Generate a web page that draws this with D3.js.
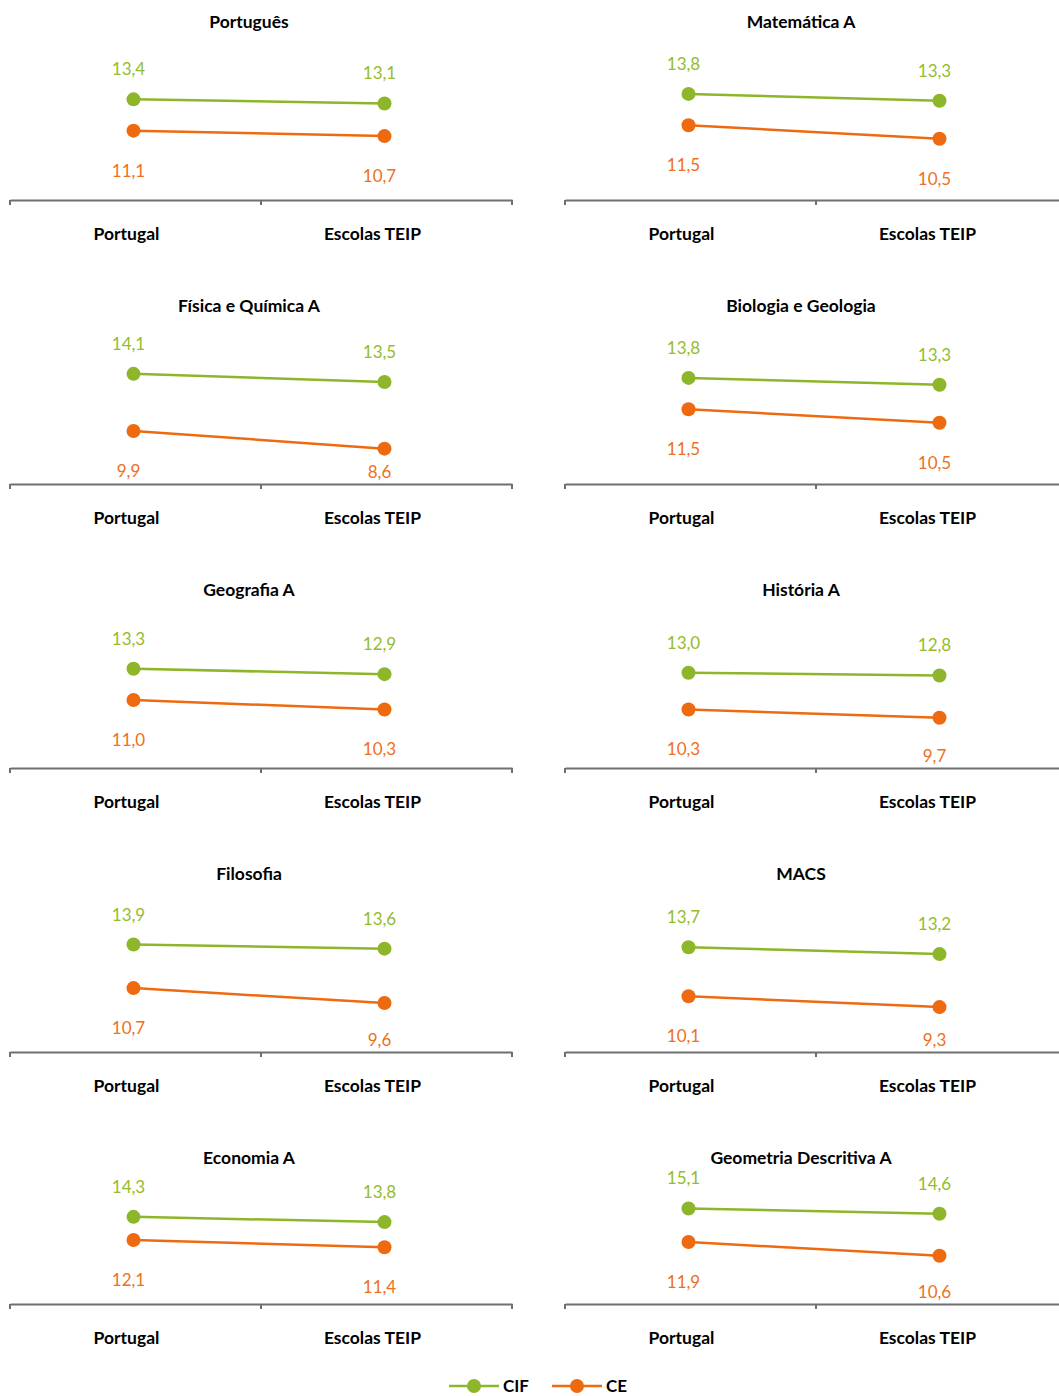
<!DOCTYPE html>
<html><head><meta charset="utf-8">
<script src="https://cdn.jsdelivr.net/npm/d3@7"></script>
<style>body{margin:0;background:#fff}svg{display:block;font-family:Lato,'Open Sans',sans-serif}</style>
</head><body><svg id="c" width="1059" height="1396"></svg>
<script>
const subjects = ["Português","Matemática A","Física e Química A","Biologia e Geologia","Geografia A","História A","Filosofia","MACS","Economia A","Geometria Descritiva A"];
const categories = ["Portugal","Escolas TEIP"];
const seriesNames = ["CIF","CE"];
const cifValues = [[13.4,13.1],[13.8,13.3],[14.1,13.5],[13.8,13.3],[13.3,12.9],[13.0,12.8],[13.9,13.6],[13.7,13.2],[14.3,13.8],[15.1,14.6]];
const ceValues  = [[11.1,10.7],[11.5,10.5],[9.9,8.6],[11.5,10.5],[11.0,10.3],[10.3,9.7],[10.7,9.6],[10.1,9.3],[12.1,11.4],[11.9,10.6]];
const yDomain = [6, 16];

const colors = {CIF:"#8DB62A", CE:"#EE6A10"};
const labelColors = {CIF:"#94BC2C", CE:"#EE7020"};
const locale = d3.formatLocale({decimal:",", thousands:".", grouping:[3], currency:["","€"]});
const fmt = locale.format(".1f");

const svg = d3.select("#c");
const axisY = [200, 484, 768, 1052, 1304];
const plotH = [136, 136, 136, 136, 105];
const colX0 = [10, 565];
const titleOff = [239, 236];
const panelW = 502;

subjects.forEach((name, i) => {
  const row = Math.floor(i/2), col = i%2;
  const x0 = colX0[col];
  const yb = axisY[row];
  const g = svg.append("g");
  const x = d3.scaleBand().domain(categories).range([x0, x0+panelW]);
  const cx = c => x(c) + x.bandwidth()/2 - 2;
  const y = d3.scaleLinear().domain(yDomain).range([yb, yb - plotH[row]]);

  // title
  g.append("text").attr("x", x0 + titleOff[col]).attr("y", 22 + 284*row).attr("dy","0.35em")
    .attr("text-anchor","middle").attr("font-weight","bold").attr("font-size",17.5).attr("fill","#000").text(name);

  // axis
  const ax = d3.axisBottom(x).tickSize(0).tickFormat("");
  const axG = g.append("g").attr("transform",`translate(0,${yb})`).call(ax);
  axG.select(".domain").attr("stroke","#6f6f6f").attr("stroke-width",2);
  const tickPos = [x0, x0+panelW/2, x0+panelW];
  g.selectAll(".tk").data(tickPos).join("line").attr("x1",d=>d).attr("x2",d=>d)
    .attr("y1",yb).attr("y2",yb+5).attr("stroke","#6f6f6f").attr("stroke-width",2);
  g.selectAll(".cat").data(categories).join("text")
    .attr("x", (d,j) => cx(d) - 7 - 5*j).attr("y", yb+34).attr("dy","0.35em")
    .attr("text-anchor","middle").attr("font-weight","bold").attr("font-size",17.5).attr("fill","#000").text(d=>d);

  const series = [{key:"CIF", vals:cifValues[i], off:-30},{key:"CE", vals:ceValues[i], off:40}];
  series.forEach(s => {
    const pts = categories.map((c,j)=>({c, v:s.vals[j]}));
    g.append("path").datum(pts)
      .attr("d", d3.line().x(d=>cx(d.c)).y(d=>y(d.v)))
      .attr("fill","none").attr("stroke",colors[s.key]).attr("stroke-width",2.5);
    g.selectAll(null).data(pts).join("circle")
      .attr("cx", d=>cx(d.c)).attr("cy", d=>y(d.v)).attr("r",7).attr("fill",colors[s.key]);
    g.selectAll(null).data(pts).join("text")
      .attr("x", d=>cx(d.c)-5)
      .attr("y", d=> s.off < 0 ? y(d.v)+s.off : Math.min(y(d.v)+s.off, yb-12))
      .attr("dy","0.35em")
      .attr("text-anchor","middle").attr("font-size",17).attr("fill",labelColors[s.key])
      .text(d=>fmt(d.v));
  });
});

// legend
const leg = svg.append("g");
const legX = [449, 552];
seriesNames.forEach((s, k) => {
  const lx = legX[k], ly = 1386;
  leg.append("line").attr("x1",lx).attr("x2",lx+50).attr("y1",ly).attr("y2",ly)
    .attr("stroke",colors[s]).attr("stroke-width",2.5);
  leg.append("circle").attr("cx",lx+25).attr("cy",ly).attr("r",7).attr("fill",colors[s]);
  leg.append("text").attr("x",lx+54).attr("y",ly).attr("dy","0.35em").attr("font-weight","bold")
    .attr("font-size",17).attr("fill","#000").text(s);
});
</script></body></html>
